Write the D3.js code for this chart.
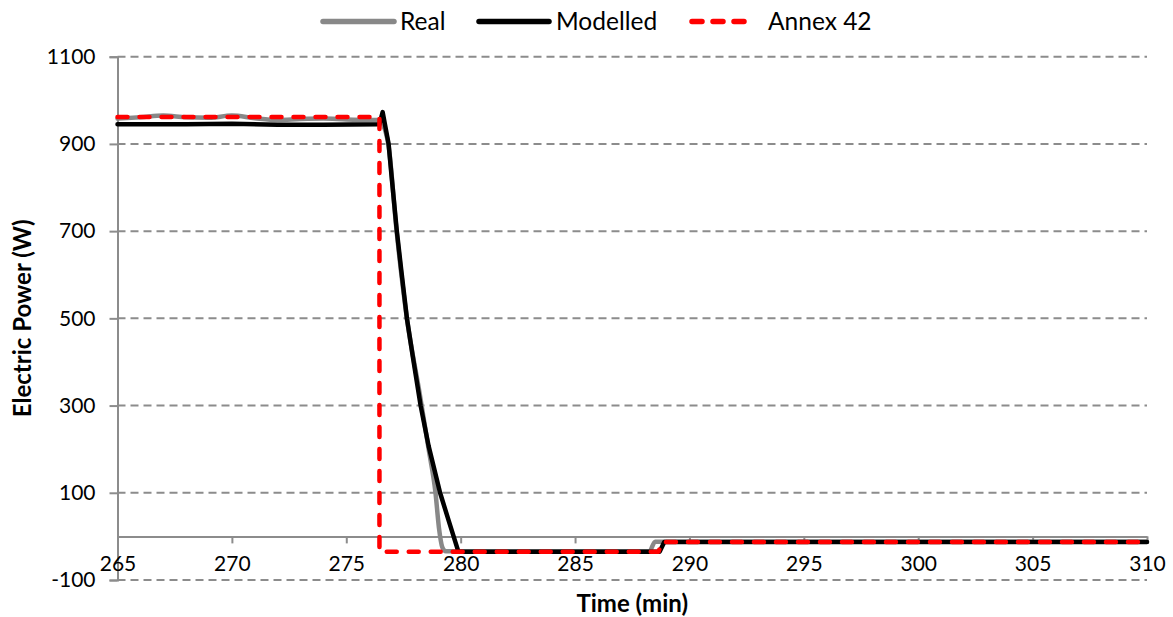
<!DOCTYPE html>
<html>
<head>
<meta charset="utf-8">
<script src="https://cdn.jsdelivr.net/npm/d3@7"></script>
<style>
  html, body { margin: 0; padding: 0; background: #fff; }
  svg { display: block; font-family: Lato, "Open Sans", sans-serif; }
</style>
</head>
<body>
<svg id="chart" width="1173" height="617"></svg>
<script>
// Electric power of the unit over time: measured, modelled and Annex 42 model
const realTime  = [265, 266, 267, 268, 269, 270, 271, 272, 273, 274, 275, 276, 276.45, 276.6, 276.85, 277.2, 277.65, 278.2, 278.6, 278.9, 279.05, 279.2, 279.35, 288.25, 288.5, 310];
const realPower = [958, 961, 965, 961, 960, 965, 959, 955, 957, 958, 956, 955, 955, 945, 895, 700, 500, 330, 200, 100, 20, -25, -34, -34, -12, -12];

const modelTime  = [265, 268, 270, 272, 274, 276.45, 276.59, 276.85, 277.0, 277.21, 277.4, 277.65, 277.9, 278.25, 278.6, 279.1, 279.5, 279.9, 288.7, 288.9, 310];
const modelPower = [945, 945, 946, 944, 944, 945, 973, 900, 815, 700, 612, 500, 415, 300, 207, 100, 32, -35, -35, -13, -13];

const annexTime  = [265, 276.45, 276.45, 288.65, 288.8, 310];
const annexPower = [962, 962, -35, -35, -13, -13];

const xTicks = [265, 270, 275, 280, 285, 290, 295, 300, 305, 310];
const yTicks = [-100, 100, 300, 500, 700, 900, 1100];

const seriesNames = ["Real", "Modelled", "Annex 42"];

const svg = d3.select("#chart");
const gridColor = "#8c8c8c";
const axisColor = "#8c8c8c";

const x = d3.scaleLinear().domain([265, 310]).range([117.5, 1147]);
const y = d3.scaleLinear().domain([-100, 1100]).range([580, 56.7]);

// horizontal dashed gridlines
svg.append("g").selectAll("line")
  .data(yTicks).join("line")
  .attr("x1", x(265)).attr("x2", x(310))
  .attr("y1", d => y(d)).attr("y2", d => y(d))
  .attr("stroke", gridColor).attr("stroke-width", 2)
  .attr("stroke-dasharray", "8 5");

// y axis
const yAxis = d3.axisLeft(y).tickValues(yTicks).tickSize(8).tickPadding(14).tickFormat(d => String(d));
const gy = svg.append("g").attr("transform", `translate(${x(265)},0)`).call(yAxis);
gy.select(".domain").attr("stroke", axisColor).attr("stroke-width", 2);
gy.selectAll(".tick line").attr("stroke", axisColor).attr("stroke-width", 2);
gy.selectAll(".tick text").attr("font-size", 21).attr("fill", "#000").attr("font-family", "Lato, sans-serif");

// x axis crossing at zero
const xAxis = d3.axisBottom(x).tickValues(xTicks).tickSize(7).tickPadding(13).tickSizeOuter(0).tickFormat(d => String(d));
const gx = svg.append("g").attr("transform", `translate(0,${y(0)})`).call(xAxis);
gx.select(".domain").attr("stroke", axisColor).attr("stroke-width", 2);
gx.selectAll(".tick line").attr("stroke", axisColor).attr("stroke-width", 2);
gx.selectAll(".tick text").attr("font-size", 21).attr("fill", "#000").attr("font-family", "Lato, sans-serif");

// series
const straight = d3.line().x(d => x(d[0])).y(d => y(d[1]));
const smooth = d3.line().x(d => x(d[0])).y(d => y(d[1])).curve(d3.curveMonotoneX);
const realData  = realTime.map((t, i) => [t, realPower[i]]);
const modelData = modelTime.map((t, i) => [t, modelPower[i]]);
const annexData = annexTime.map((t, i) => [t, annexPower[i]]);

const styles = [
  { color: "#888888", dash: null, gen: smooth },
  { color: "#000000", dash: null, gen: straight },
  { color: "#ff0000", dash: "10 12", gen: straight }
];

[realData, modelData, annexData].forEach((data, i) => {
  svg.append("path")
    .datum(data)
    .attr("d", styles[i].gen)
    .attr("fill", "none")
    .attr("stroke", styles[i].color)
    .attr("stroke-width", 4.5)
    .attr("stroke-linecap", "round")
    .attr("stroke-linejoin", "round")
    .attr("stroke-dasharray", styles[i].dash);
});

// axis titles
svg.append("text")
  .attr("x", x(287.5)).attr("y", 612)
  .attr("text-anchor", "middle")
  .attr("font-size", 24).attr("font-weight", "bold")
  .text("Time (min)");

svg.append("text")
  .attr("transform", `translate(31,${y(500)}) rotate(-90)`)
  .attr("text-anchor", "middle")
  .attr("font-size", 24).attr("font-weight", "bold")
  .text("Electric Power (W)");

// legend
const legendItems = [
  { x1: 323, x2: 394, tx: 400 },
  { x1: 479, x2: 549, tx: 556 },
  { x1: 692, x2: 753, tx: 768 }
];
const legend = svg.append("g");
legendItems.forEach((it, i) => {
  legend.append("line")
    .attr("x1", it.x1).attr("x2", it.x2)
    .attr("y1", 21.5).attr("y2", 21.5)
    .attr("stroke", styles[i].color)
    .attr("stroke-width", 5.5)
    .attr("stroke-linecap", "round")
    .attr("stroke-dasharray", i === 2 ? "10 11" : null);
  legend.append("text")
    .attr("x", it.tx).attr("y", 30)
    .attr("font-size", 24.5)
    .text(seriesNames[i]);
});
</script>
</body>
</html>
